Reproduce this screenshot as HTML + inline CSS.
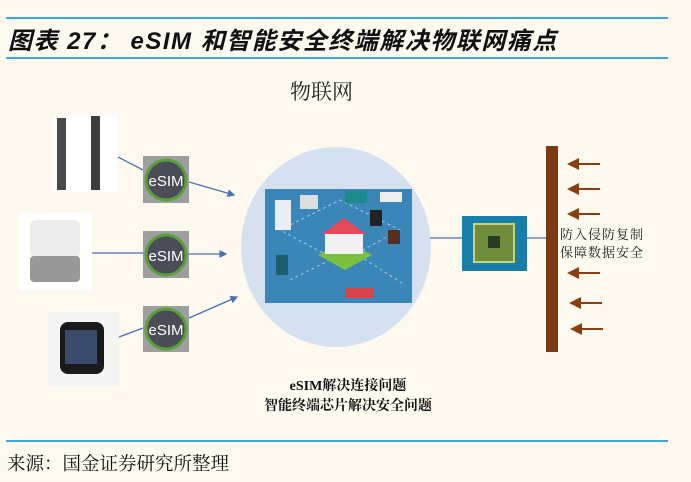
<!DOCTYPE html>
<html><head><meta charset="utf-8"><style>
body{margin:0;width:691px;height:482px;background:#fdf9ef;position:relative;overflow:hidden;font-family:"Liberation Sans","Noto Sans CJK SC",sans-serif}
.a{position:absolute}
.ser{font-family:"Liberation Serif","Noto Serif CJK SC",serif}
</style></head><body>
<div class="a" style="left:6px;top:17px;width:662px;height:2px;background:#3aa8e0"></div>
<div class="a" style="left:6px;top:57px;width:662px;height:2px;background:#3aa8e0"></div>
<div class="a" style="left:8px;top:21px;font-size:24px;letter-spacing:1.5px;font-weight:bold;font-style:italic;color:#111;white-space:nowrap">图表 27： eSIM 和智能安全终端解决物联网痛点</div>
<div class="a ser" style="left:290px;top:76px;font-size:21px;color:#222">物联网</div>

<svg class="a" style="left:0;top:0" width="691" height="482">
<defs><marker id="m" markerWidth="6" markerHeight="6" refX="5" refY="3" orient="auto"><path d="M0,0L6,3L0,6z" fill="#4a6fb5"/></marker>
<marker id="b" markerWidth="6" markerHeight="6" refX="5" refY="3" orient="auto"><path d="M0,0L6,3L0,6z" fill="#8a3e12"/></marker></defs>
<ellipse cx="336" cy="247" rx="95" ry="100" fill="#d5e1f1"/>
<rect x="265" y="189" width="147" height="114" fill="#3a86b8"/>
<g stroke="#9cc7e3" stroke-dasharray="3,3" fill="none"><path d="M280,230L340,200L400,230L340,262zM290,280L350,250L405,285"/></g>
<rect x="275" y="200" width="16" height="30" fill="#e8eef2"/><rect x="300" y="195" width="18" height="14" fill="#ddd"/>
<rect x="345" y="191" width="22" height="12" fill="#1e8c8c"/><rect x="380" y="192" width="22" height="10" fill="#eee"/>
<polygon points="318,255 345,240 372,255 345,270" fill="#7bc043"/>
<rect x="325" y="232" width="38" height="22" fill="#f1f1f1"/><polygon points="322,234 344,218 366,234" fill="#e5495a"/>
<rect x="276" y="255" width="12" height="20" fill="#1c5e6e"/><rect x="345" y="288" width="28" height="10" fill="#d9444c"/>
<rect x="370" y="210" width="12" height="16" fill="#222"/><rect x="388" y="230" width="12" height="14" fill="#5a2d1e"/>
<g stroke="#4a6fb5" stroke-width="1.3" fill="none">
<line x1="118" y1="157" x2="143" y2="170"/><line x1="189" y1="182" x2="234" y2="195" marker-end="url(#m)"/>
<line x1="92" y1="253" x2="143" y2="253"/><line x1="189" y1="254" x2="226" y2="254" marker-end="url(#m)"/>
<line x1="119" y1="337" x2="143" y2="328"/><line x1="189" y1="318" x2="237" y2="297" marker-end="url(#m)"/>
<line x1="430" y1="238" x2="462" y2="238"/><line x1="527" y1="238" x2="546" y2="238"/>
</g>
<rect x="546" y="146" width="12" height="206" fill="#7a3a12"/>
<g stroke="#8a3e12" stroke-width="2">
<line x1="600" y1="164" x2="569" y2="164" marker-end="url(#b)"/><line x1="600" y1="189" x2="569" y2="189" marker-end="url(#b)"/>
<line x1="600" y1="214" x2="569" y2="214" marker-end="url(#b)"/><line x1="600" y1="273" x2="569" y2="273" marker-end="url(#b)"/>
<line x1="602" y1="303" x2="571" y2="303" marker-end="url(#b)"/><line x1="603" y1="329" x2="572" y2="329" marker-end="url(#b)"/>
</g>
<rect x="462" y="216" width="65" height="55" fill="#1a7fa8"/>
<rect x="474" y="224" width="40" height="38" fill="#6f8d3c" stroke="#c9d47a" stroke-width="2"/><rect x="488" y="236" width="12" height="12" fill="#2b3a22"/>
<g>
<rect x="53" y="115" width="65" height="77" fill="#fff"/><rect x="57" y="118" width="9" height="72" fill="#4a4a4a"/><rect x="91" y="116" width="9" height="74" fill="#3e3e3e"/>
<rect x="19" y="213" width="73" height="77" fill="#fff"/><rect x="30" y="220" width="50" height="38" rx="6" fill="#ececec"/><rect x="30" y="256" width="50" height="26" rx="4" fill="#999"/>
<rect x="48" y="312" width="71" height="74" fill="#f4f4f4"/><rect x="60" y="322" width="44" height="52" rx="8" fill="#1a1a1a"/><rect x="65" y="330" width="32" height="34" fill="#3a4a6a"/>
</g>
<g font-family="Liberation Sans" font-size="15" fill="#fff" text-anchor="middle">
<rect x="143" y="156" width="46" height="47" fill="#9e9e9e"/><circle cx="166" cy="180" r="20" fill="#4a4c57" stroke="#5aa03a" stroke-width="3"/><text x="166" y="186">eSIM</text>
<rect x="143" y="231" width="46" height="47" fill="#9e9e9e"/><circle cx="166" cy="255" r="20" fill="#4a4c57" stroke="#5aa03a" stroke-width="3"/><text x="166" y="261">eSIM</text>
<rect x="143" y="306" width="46" height="46" fill="#9e9e9e"/><circle cx="166" cy="329" r="20" fill="#4a4c57" stroke="#5aa03a" stroke-width="3"/><text x="166" y="335">eSIM</text>
</g>
</svg>

<div class="a ser" style="left:560px;top:226px;font-size:13px;line-height:18px;color:#222;letter-spacing:1px">防入侵防复制<br>保障数据安全</div>
<div class="a ser" style="left:200px;width:296px;top:377px;text-align:center;font-size:14px;line-height:20px;color:#111;font-weight:bold">eSIM解决连接问题<br>智能终端芯片解决安全问题</div>
<div class="a" style="left:6px;top:440px;width:662px;height:2px;background:#3aa8e0"></div>
<div class="a ser" style="left:7px;top:450px;font-size:18.5px;color:#111">来源：国金证券研究所整理</div>
</body></html>
